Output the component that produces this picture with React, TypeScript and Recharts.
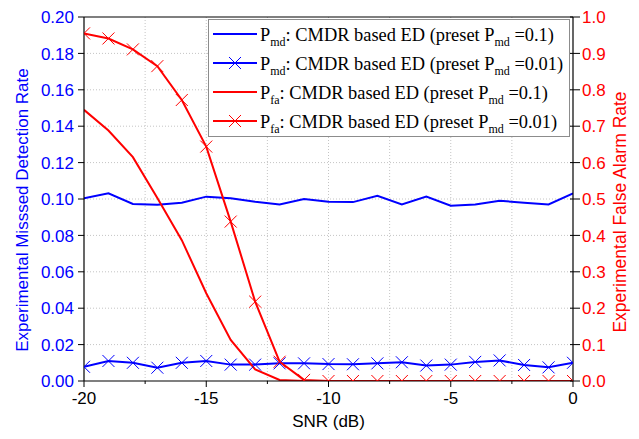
import React from 'react'
import { LineChart, Line, XAxis, YAxis, ReferenceLine, Legend } from 'recharts'

const snr = [-20, -19, -18, -17, -16, -15, -14, -13, -12, -11, -10, -9, -8, -7, -6, -5, -4, -3, -2, -1, 0]

// left axis (missed detection)
const pmdPreset01 = [
  0.1004, 0.1031, 0.0973, 0.0968, 0.098, 0.1013, 0.1004, 0.0985, 0.097, 0.1, 0.0985,
  0.0983, 0.1018, 0.097, 0.1013, 0.0963, 0.097, 0.099, 0.098, 0.097, 0.1031,
]
const pmdPreset001 = [
  0.0078, 0.011, 0.01, 0.0073, 0.01, 0.011, 0.009, 0.009, 0.0097, 0.0097, 0.0093,
  0.0092, 0.0097, 0.0103, 0.0085, 0.009, 0.0105, 0.0113, 0.0088, 0.0075, 0.01,
]
// right axis (false alarm)
const pfaPreset01 = [
  0.745, 0.688, 0.615, 0.503, 0.387, 0.241, 0.113, 0.032, 0.003, 0, 0,
  0, 0, 0, 0, 0, 0, 0, 0, 0, 0,
]
const pfaPreset001 = [
  0.955, 0.941, 0.911, 0.865, 0.772, 0.644, 0.438, 0.218, 0.053, 0.003, 0,
  0, 0, 0, 0, 0, 0, 0, 0, 0, 0,
]

const xTicks = [-20, -17.5, -15, -12.5, -10, -7.5, -5, -2.5, 0]
const xGrid = [-17.5, -15, -12.5, -10, -7.5, -5, -2.5]
const leftTicks = [
  0, 0.01, 0.02, 0.03, 0.04, 0.05, 0.06, 0.07, 0.08, 0.09, 0.1,
  0.11, 0.12, 0.13, 0.14, 0.15, 0.16, 0.17, 0.18, 0.19, 0.2,
]
const leftGrid = [0.02, 0.04, 0.06, 0.08, 0.1, 0.12, 0.14, 0.16, 0.18]
const rightTicks = [
  0, 0.05, 0.1, 0.15, 0.2, 0.25, 0.3, 0.35, 0.4, 0.45, 0.5,
  0.55, 0.6, 0.65, 0.7, 0.75, 0.8, 0.85, 0.9, 0.95, 1,
]

const BLUE = '#0000ff'
const RED = '#ff0000'
const SANS = 'Liberation Sans, Arial, sans-serif'
const SERIF = 'Liberation Serif, Times New Roman, serif'

const series = [
  { key: 'pmd01', axis: 'left', color: BLUE, marker: false, sym: 'md', preset: '0.1' },
  { key: 'pmd001', axis: 'left', color: BLUE, marker: true, sym: 'md', preset: '0.01' },
  { key: 'pfa01', axis: 'right', color: RED, marker: false, sym: 'fa', preset: '0.1' },
  { key: 'pfa001', axis: 'right', color: RED, marker: true, sym: 'fa', preset: '0.01' },
]

const data = snr.map((s, i) => ({
  snr: s,
  pmd01: pmdPreset01[i],
  pmd001: pmdPreset001[i],
  pfa01: pfaPreset01[i],
  pfa001: pfaPreset001[i],
}))

const cross = (cx: number, cy: number, color: string, key?: any) => (
  <path
    key={key}
    d={`M${cx - 6},${cy - 6}L${cx + 6},${cy + 6}M${cx - 6},${cy + 6}L${cx + 6},${cy - 6}`}
    stroke={color}
    strokeWidth={1}
    fill="none"
  />
)

const crossDot = (color: string) => (props: any) => cross(props.cx, props.cy, color, props.index)

const LeftTick = (props: any) => {
  const { x, y, payload } = props
  const v = payload.value
  const major = Math.round(v * 100) % 2 === 0
  return (
    <g>
      <line x1={x} x2={x - (major ? 6 : 3)} y1={y} y2={y} stroke="#000" />
      {major && (
        <text x={x - 10} y={y} dy="0.36em" textAnchor="end" fill={BLUE} fontSize={17} fontFamily={SANS}>
          {v.toFixed(2)}
        </text>
      )}
    </g>
  )
}

const RightTick = (props: any) => {
  const { x, y, payload } = props
  const v = payload.value
  const major = Math.round(v * 100) % 10 === 0
  return (
    <g>
      <line x1={x - (major ? 3 : 0)} x2={x + (major ? 7 : 4)} y1={y} y2={y} stroke="#000" />
      {major && (
        <text x={x + 9} y={y} dy="0.36em" textAnchor="start" fill={RED} fontSize={17} fontFamily={SANS}>
          {v.toFixed(1)}
        </text>
      )}
    </g>
  )
}

const BottomTick = (props: any) => {
  const { x, y, payload } = props
  const v = payload.value
  const major = v % 5 === 0
  return (
    <g>
      <line x1={x} x2={x} y1={y} y2={y + (major ? 6 : 3)} stroke="#000" />
      {major && (
        <text x={x} y={y + 23} textAnchor="middle" fill="#000" fontSize={17} fontFamily={SANS}>
          {v}
        </text>
      )}
    </g>
  )
}

const renderLegend = () => (
  <div style={{ border: '1px solid #8c8c8c', background: '#fff', width: 360, height: 116 }}>
    <svg width={360} height={116} style={{ display: 'block' }}>
      {series.map((s, i) => {
        const ry = 14 + i * 29
        return (
          <g key={s.key}>
            <line x1={4} x2={48} y1={ry} y2={ry} stroke={s.color} strokeWidth={2} />
            {s.marker && cross(26, ry, s.color)}
            <text x={51} y={ry + 7} fontFamily={SERIF} fontSize={18.4} fill="#000">
              <tspan>P</tspan>
              <tspan fontSize={12} dy={5}>{s.sym}</tspan>
              <tspan dy={-5}>: CMDR based ED (preset P</tspan>
              <tspan fontSize={12} dy={5}>md</tspan>
              <tspan dy={-5}>{` =${s.preset})`}</tspan>
            </text>
          </g>
        )
      })}
    </svg>
  </div>
)

export default function App() {
  return (
    <div>
      <style>{'body{margin:0}'}</style>
      <LineChart width={639} height={439} data={data} margin={{ top: 17, right: 0, bottom: 0, left: 0 }}>
        {leftGrid.map((g) => (
          <ReferenceLine key={'h' + g} yAxisId="left" y={g} stroke="#c4c4c4" strokeDasharray="1 2" />
        ))}
        {xGrid.map((g) => (
          <ReferenceLine key={'v' + g} yAxisId="left" x={g} stroke="#c4c4c4" strokeDasharray="1 2" />
        ))}
        <ReferenceLine yAxisId="left" y={0.2} stroke="#000" strokeWidth={1.2} />
        <XAxis
          dataKey="snr"
          type="number"
          domain={[-20, 0]}
          ticks={xTicks}
          allowDataOverflow
          height={58}
          tickSize={0}
          tickMargin={0}
          tickLine={false}
          tick={<BottomTick />}
          axisLine={{ stroke: '#000', strokeWidth: 1.2 }}
          label={{
            content: (p: any) => (
              <text x={p.viewBox.x + p.viewBox.width / 2} y={p.viewBox.y + 46} textAnchor="middle" fontSize={17} fontFamily={SANS} fill="#000">
                SNR (dB)
              </text>
            ),
          }}
        />
        <YAxis
          yAxisId="left"
          domain={[0, 0.2]}
          ticks={leftTicks}
          allowDataOverflow
          width={84}
          tickSize={0}
          tickMargin={0}
          tickLine={false}
          tick={<LeftTick />}
          axisLine={{ stroke: '#000', strokeWidth: 1.2 }}
          label={{
            content: () => (
              <text x={22} y={210} transform="rotate(-90 22 210)" textAnchor="middle" dominantBaseline="central" fontSize={17} fontFamily={SANS} fill={BLUE}>
                Experimental Misssed Detection Rate
              </text>
            ),
          }}
        />
        <YAxis
          yAxisId="right"
          orientation="right"
          domain={[0, 1]}
          ticks={rightTicks}
          allowDataOverflow
          width={66}
          tickSize={0}
          tickMargin={0}
          tickLine={false}
          tick={<RightTick />}
          axisLine={{ stroke: '#000', strokeWidth: 1.2 }}
          label={{
            content: () => (
              <text x={620} y={212} transform="rotate(-90 620 212)" textAnchor="middle" dominantBaseline="central" fontSize={17.5} fontFamily={SANS} fill={RED}>
                Experimental False Alarm Rate
              </text>
            ),
          }}
        />
        {series.map((s) => (
          <Line
            key={s.key}
            yAxisId={s.axis}
            dataKey={s.key}
            stroke={s.color}
            strokeWidth={2}
            dot={s.marker ? crossDot(s.color) : false}
            activeDot={false}
            isAnimationActive={false}
          />
        ))}
        <Legend
          layout="vertical"
          align="center"
          verticalAlign="middle"
          content={renderLegend}
          wrapperStyle={{ position: 'absolute', left: 208, top: 19, width: 362, height: 118 }}
        />
      </LineChart>
    </div>
  )
}
